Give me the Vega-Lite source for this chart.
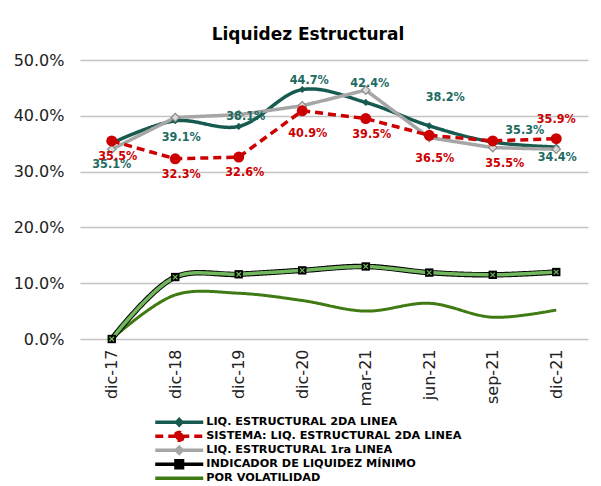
{
  "$schema": "https://vega.github.io/schema/vega-lite/v6.json",
  "width": 508,
  "height": 279,
  "autosize": {"type": "none"},
  "padding": {"left": 80, "top": 60, "right": 13, "bottom": 147},
  "background": "white",
  "title": {
    "text": "Liquidez Estructural",
    "anchor": "middle",
    "dx": -26,
    "offset": -5,
    "baseline": "alphabetic",
    "font": "DejaVu Sans",
    "fontSize": 17,
    "fontWeight": "bold",
    "color": "#000000"
  },
  "config": {
    "view": {"stroke": null},
    "axis": {"labelFont": "DejaVu Sans", "labelFontSize": 16, "labelColor": "#222222", "ticks": false, "domain": false, "title": null},
    "legend": {
      "orient": "none",
      "legendX": 74.25,
      "legendY": 356.5,
      "direction": "vertical",
      "title": null,
      "symbolSize": 144,
      "symbolStrokeWidth": 3.5,
      "symbolOffset": 17,
      "labelFont": "DejaVu Sans",
      "labelFontWeight": "bold",
      "labelFontSize": 11.25,
      "labelColor": "#000000",
      "labelLimit": 400,
      "clipHeight": 11.5,
      "rowPadding": 1,
      "labelOffset": 19,
      "padding": 0
    }
  },
  "data": {
    "values": [
      {"fecha": "dic-17", "serie": "LIQ. ESTRUCTURAL 2DA LINEA", "valor": 0.351},
      {"fecha": "dic-18", "serie": "LIQ. ESTRUCTURAL 2DA LINEA", "valor": 0.391},
      {"fecha": "dic-19", "serie": "LIQ. ESTRUCTURAL 2DA LINEA", "valor": 0.381},
      {"fecha": "dic-20", "serie": "LIQ. ESTRUCTURAL 2DA LINEA", "valor": 0.447},
      {"fecha": "mar-21", "serie": "LIQ. ESTRUCTURAL 2DA LINEA", "valor": 0.424},
      {"fecha": "jun-21", "serie": "LIQ. ESTRUCTURAL 2DA LINEA", "valor": 0.382},
      {"fecha": "sep-21", "serie": "LIQ. ESTRUCTURAL 2DA LINEA", "valor": 0.353},
      {"fecha": "dic-21", "serie": "LIQ. ESTRUCTURAL 2DA LINEA", "valor": 0.344},
      {"fecha": "dic-17", "serie": "SISTEMA: LIQ. ESTRUCTURAL 2DA LINEA", "valor": 0.355},
      {"fecha": "dic-18", "serie": "SISTEMA: LIQ. ESTRUCTURAL 2DA LINEA", "valor": 0.323},
      {"fecha": "dic-19", "serie": "SISTEMA: LIQ. ESTRUCTURAL 2DA LINEA", "valor": 0.326},
      {"fecha": "dic-20", "serie": "SISTEMA: LIQ. ESTRUCTURAL 2DA LINEA", "valor": 0.409},
      {"fecha": "mar-21", "serie": "SISTEMA: LIQ. ESTRUCTURAL 2DA LINEA", "valor": 0.395},
      {"fecha": "jun-21", "serie": "SISTEMA: LIQ. ESTRUCTURAL 2DA LINEA", "valor": 0.365},
      {"fecha": "sep-21", "serie": "SISTEMA: LIQ. ESTRUCTURAL 2DA LINEA", "valor": 0.355},
      {"fecha": "dic-21", "serie": "SISTEMA: LIQ. ESTRUCTURAL 2DA LINEA", "valor": 0.359},
      {"fecha": "dic-17", "serie": "LIQ. ESTRUCTURAL 1ra LINEA", "valor": 0.340},
      {"fecha": "dic-18", "serie": "LIQ. ESTRUCTURAL 1ra LINEA", "valor": 0.397},
      {"fecha": "dic-19", "serie": "LIQ. ESTRUCTURAL 1ra LINEA", "valor": 0.402},
      {"fecha": "dic-20", "serie": "LIQ. ESTRUCTURAL 1ra LINEA", "valor": 0.418},
      {"fecha": "mar-21", "serie": "LIQ. ESTRUCTURAL 1ra LINEA", "valor": 0.446},
      {"fecha": "jun-21", "serie": "LIQ. ESTRUCTURAL 1ra LINEA", "valor": 0.361},
      {"fecha": "sep-21", "serie": "LIQ. ESTRUCTURAL 1ra LINEA", "valor": 0.343},
      {"fecha": "dic-21", "serie": "LIQ. ESTRUCTURAL 1ra LINEA", "valor": 0.340},
      {"fecha": "dic-17", "serie": "INDICADOR DE LIQUIDEZ MÍNIMO", "valor": 0.0},
      {"fecha": "dic-18", "serie": "INDICADOR DE LIQUIDEZ MÍNIMO", "valor": 0.111},
      {"fecha": "dic-19", "serie": "INDICADOR DE LIQUIDEZ MÍNIMO", "valor": 0.116},
      {"fecha": "dic-20", "serie": "INDICADOR DE LIQUIDEZ MÍNIMO", "valor": 0.123},
      {"fecha": "mar-21", "serie": "INDICADOR DE LIQUIDEZ MÍNIMO", "valor": 0.130},
      {"fecha": "jun-21", "serie": "INDICADOR DE LIQUIDEZ MÍNIMO", "valor": 0.119},
      {"fecha": "sep-21", "serie": "INDICADOR DE LIQUIDEZ MÍNIMO", "valor": 0.115},
      {"fecha": "dic-21", "serie": "INDICADOR DE LIQUIDEZ MÍNIMO", "valor": 0.120},
      {"fecha": "dic-17", "serie": "POR VOLATILIDAD", "valor": 0.0},
      {"fecha": "dic-18", "serie": "POR VOLATILIDAD", "valor": 0.079},
      {"fecha": "dic-19", "serie": "POR VOLATILIDAD", "valor": 0.082},
      {"fecha": "dic-20", "serie": "POR VOLATILIDAD", "valor": 0.069},
      {"fecha": "mar-21", "serie": "POR VOLATILIDAD", "valor": 0.050},
      {"fecha": "jun-21", "serie": "POR VOLATILIDAD", "valor": 0.064},
      {"fecha": "sep-21", "serie": "POR VOLATILIDAD", "valor": 0.039},
      {"fecha": "dic-21", "serie": "POR VOLATILIDAD", "valor": 0.052}
    ]
  },
  "encoding": {
    "x": {
      "field": "fecha",
      "type": "ordinal",
      "sort": ["dic-17", "dic-18", "dic-19", "dic-20", "mar-21", "jun-21", "sep-21", "dic-21"],
      "scale": {"type": "point", "padding": 0.5},
      "axis": {"labelAngle": -90, "labelPadding": 10, "grid": false}
    },
    "y": {
      "field": "valor",
      "type": "quantitative",
      "scale": {"domain": [0, 0.5], "nice": false, "zero": true},
      "axis": {"format": ".1%", "values": [0, 0.1, 0.2, 0.3, 0.4, 0.5], "grid": true, "gridColor": "#c4c4c4", "gridWidth": 1.5, "labelPadding": 16}
    }
  },
  "layer": [
    {
      "transform": [{"filter": {"field": "serie", "equal": "POR VOLATILIDAD"}}],
      "mark": {"type": "line", "interpolate": "catmull-rom", "strokeWidth": 3},
      "encoding": {
        "color": {
          "field": "serie", "type": "nominal",
          "scale": {"domain": ["LIQ. ESTRUCTURAL 2DA LINEA", "SISTEMA: LIQ. ESTRUCTURAL 2DA LINEA", "LIQ. ESTRUCTURAL 1ra LINEA", "INDICADOR DE LIQUIDEZ MÍNIMO", "POR VOLATILIDAD"], "range": ["#175b50", "#cc0000", "#a6a6a6", "#000000", "#3f7a12"]},
          "legend": {"encode": {"symbols": {"update": {
            "stroke": {"scale": "color", "field": "value"},
            "fill": [{"test": "datum.value === 'LIQ. ESTRUCTURAL 1ra LINEA'", "value": "#e6e6e6"}, {"scale": "color", "field": "value"}],
            "strokeWidth": {"value": 3.5},
            "opacity": {"value": 1}
          }}}}
        },
        "strokeDash": {"field": "serie", "type": "nominal", "scale": {"domain": ["LIQ. ESTRUCTURAL 2DA LINEA", "SISTEMA: LIQ. ESTRUCTURAL 2DA LINEA", "LIQ. ESTRUCTURAL 1ra LINEA", "INDICADOR DE LIQUIDEZ MÍNIMO", "POR VOLATILIDAD"], "range": [[1, 0], [8, 5], [1, 0], [1, 0], [1, 0]]}}
      }
    },
    {
      "transform": [{"filter": "false"}],
      "mark": {"type": "point", "filled": true},
      "encoding": {
        "color": {"field": "serie", "type": "nominal"},
        "strokeDash": {"field": "serie", "type": "nominal"},
        "shape": {"field": "serie", "type": "nominal", "scale": {"domain": ["LIQ. ESTRUCTURAL 2DA LINEA", "SISTEMA: LIQ. ESTRUCTURAL 2DA LINEA", "LIQ. ESTRUCTURAL 1ra LINEA", "INDICADOR DE LIQUIDEZ MÍNIMO", "POR VOLATILIDAD"], "range": ["M-4,0H4M0,-0.45L0.45,0L0,0.45L-0.45,0Z", "M-4,0H4M0.7,0L0.495,0.495L0,0.7L-0.495,0.495L-0.7,0L-0.495,-0.495L0,-0.7L0.495,-0.495Z", "M-4,0H4M0,-0.5L0.5,0L0,0.5L-0.5,0Z", "M-4,0H4M-0.55,-0.6H0.55V0.6H-0.55Z", "M-4,0H4"]}}
      }
    },
    {
      "transform": [{"filter": {"field": "serie", "equal": "INDICADOR DE LIQUIDEZ MÍNIMO"}}],
      "mark": {"type": "line", "interpolate": "catmull-rom", "strokeWidth": 5.5},
      "encoding": {
        "color": {"field": "serie", "type": "nominal"},
        "strokeDash": {"field": "serie", "type": "nominal"}
      }
    },
    {
      "transform": [{"filter": {"field": "serie", "equal": "INDICADOR DE LIQUIDEZ MÍNIMO"}}],
      "mark": {"type": "line", "interpolate": "catmull-rom", "strokeWidth": 3.5, "color": "#72b85c"},
      "encoding": {}
    },
    {
      "transform": [{"filter": {"field": "serie", "equal": "INDICADOR DE LIQUIDEZ MÍNIMO"}}],
      "mark": {"type": "point", "shape": "square", "filled": true, "size": 70, "color": "#000000", "opacity": 1},
      "encoding": {}
    },
    {
      "transform": [{"filter": {"field": "serie", "equal": "INDICADOR DE LIQUIDEZ MÍNIMO"}}],
      "mark": {"type": "point", "shape": "M-1,-1L1,1M-1,1L1,-1", "filled": false, "size": 20, "stroke": "#72b85c", "strokeWidth": 1.2, "opacity": 1},
      "encoding": {}
    },
    {
      "transform": [{"filter": {"field": "serie", "equal": "LIQ. ESTRUCTURAL 2DA LINEA"}}],
      "mark": {"type": "line", "interpolate": "catmull-rom", "strokeWidth": 3.5},
      "encoding": {
        "color": {"field": "serie", "type": "nominal"},
        "strokeDash": {"field": "serie", "type": "nominal"}
      }
    },
    {
      "transform": [{"filter": {"field": "serie", "equal": "LIQ. ESTRUCTURAL 1ra LINEA"}}],
      "mark": {"type": "line", "interpolate": "linear", "strokeWidth": 3.5},
      "encoding": {
        "color": {"field": "serie", "type": "nominal"},
        "strokeDash": {"field": "serie", "type": "nominal"}
      }
    },
    {
      "transform": [{"filter": {"field": "serie", "equal": "SISTEMA: LIQ. ESTRUCTURAL 2DA LINEA"}}],
      "mark": {"type": "line", "interpolate": "linear", "strokeWidth": 3.5},
      "encoding": {
        "color": {"field": "serie", "type": "nominal"},
        "strokeDash": {"field": "serie", "type": "nominal"}
      }
    },
    {
      "transform": [{"filter": {"field": "serie", "equal": "LIQ. ESTRUCTURAL 2DA LINEA"}}],
      "mark": {"type": "point", "shape": "diamond", "filled": true, "size": 50, "color": "#175b50", "opacity": 1},
      "encoding": {}
    },
    {
      "transform": [{"filter": {"field": "serie", "equal": "LIQ. ESTRUCTURAL 1ra LINEA"}}],
      "mark": {"type": "point", "shape": "diamond", "filled": true, "size": 70, "fill": "#d9d9d9", "stroke": "#8a8a8a", "strokeWidth": 1.2, "opacity": 1},
      "encoding": {}
    },
    {
      "transform": [{"filter": {"field": "serie", "equal": "SISTEMA: LIQ. ESTRUCTURAL 2DA LINEA"}}],
      "mark": {"type": "point", "shape": "circle", "filled": true, "size": 120, "color": "#cc0000", "opacity": 1},
      "encoding": {}
    },
    {
      "transform": [{"filter": {"field": "serie", "equal": "LIQ. ESTRUCTURAL 2DA LINEA"}}, {"filter": {"field": "fecha", "oneOf": ["dic-17"]}}],
      "mark": {"type": "text", "dx": 0, "dy": 21, "font": "DejaVu Sans Condensed, DejaVu Sans", "fontWeight": "bold", "fontSize": 12.5, "color": "#1d6b5f", "baseline": "middle"},
      "encoding": {"text": {"field": "valor", "format": ".1%"}}
    },
    {
      "transform": [{"filter": {"field": "serie", "equal": "LIQ. ESTRUCTURAL 2DA LINEA"}}, {"filter": {"field": "fecha", "oneOf": ["dic-18"]}}],
      "mark": {"type": "text", "dx": 6, "dy": 16, "font": "DejaVu Sans Condensed, DejaVu Sans", "fontWeight": "bold", "fontSize": 12.5, "color": "#1d6b5f", "baseline": "middle"},
      "encoding": {"text": {"field": "valor", "format": ".1%"}}
    },
    {
      "transform": [{"filter": {"field": "serie", "equal": "LIQ. ESTRUCTURAL 2DA LINEA"}}, {"filter": {"field": "fecha", "oneOf": ["dic-19", "dic-20"]}}],
      "mark": {"type": "text", "dx": 7, "dy": -10, "font": "DejaVu Sans Condensed, DejaVu Sans", "fontWeight": "bold", "fontSize": 12.5, "color": "#1d6b5f", "baseline": "middle"},
      "encoding": {"text": {"field": "valor", "format": ".1%"}}
    },
    {
      "transform": [{"filter": {"field": "serie", "equal": "LIQ. ESTRUCTURAL 2DA LINEA"}}, {"filter": {"field": "fecha", "oneOf": ["mar-21"]}}],
      "mark": {"type": "text", "dx": 4, "dy": -19, "font": "DejaVu Sans Condensed, DejaVu Sans", "fontWeight": "bold", "fontSize": 12.5, "color": "#1d6b5f", "baseline": "middle"},
      "encoding": {"text": {"field": "valor", "format": ".1%"}}
    },
    {
      "transform": [{"filter": {"field": "serie", "equal": "LIQ. ESTRUCTURAL 2DA LINEA"}}, {"filter": {"field": "fecha", "oneOf": ["jun-21"]}}],
      "mark": {"type": "text", "dx": 16, "dy": -29, "font": "DejaVu Sans Condensed, DejaVu Sans", "fontWeight": "bold", "fontSize": 12.5, "color": "#1d6b5f", "baseline": "middle"},
      "encoding": {"text": {"field": "valor", "format": ".1%"}}
    },
    {
      "transform": [{"filter": {"field": "serie", "equal": "LIQ. ESTRUCTURAL 2DA LINEA"}}, {"filter": {"field": "fecha", "oneOf": ["sep-21"]}}],
      "mark": {"type": "text", "dx": 32, "dy": -12, "font": "DejaVu Sans Condensed, DejaVu Sans", "fontWeight": "bold", "fontSize": 12.5, "color": "#1d6b5f", "baseline": "middle"},
      "encoding": {"text": {"field": "valor", "format": ".1%"}}
    },
    {
      "transform": [{"filter": {"field": "serie", "equal": "LIQ. ESTRUCTURAL 2DA LINEA"}}, {"filter": {"field": "fecha", "oneOf": ["dic-21"]}}],
      "mark": {"type": "text", "dx": 1, "dy": 10, "font": "DejaVu Sans Condensed, DejaVu Sans", "fontWeight": "bold", "fontSize": 12.5, "color": "#1d6b5f", "baseline": "middle"},
      "encoding": {"text": {"field": "valor", "format": ".1%"}}
    },
    {
      "transform": [{"filter": {"field": "serie", "equal": "SISTEMA: LIQ. ESTRUCTURAL 2DA LINEA"}}, {"filter": {"field": "fecha", "oneOf": ["dic-17", "dic-18", "dic-19", "mar-21"]}}],
      "mark": {"type": "text", "dx": 6, "dy": 15, "font": "DejaVu Sans Condensed, DejaVu Sans", "fontWeight": "bold", "fontSize": 12.5, "color": "#cc0000", "baseline": "middle"},
      "encoding": {"text": {"field": "valor", "format": ".1%"}}
    },
    {
      "transform": [{"filter": {"field": "serie", "equal": "SISTEMA: LIQ. ESTRUCTURAL 2DA LINEA"}}, {"filter": {"field": "fecha", "oneOf": ["dic-20", "jun-21"]}}],
      "mark": {"type": "text", "dx": 5.5, "dy": 22.5, "font": "DejaVu Sans Condensed, DejaVu Sans", "fontWeight": "bold", "fontSize": 12.5, "color": "#cc0000", "baseline": "middle"},
      "encoding": {"text": {"field": "valor", "format": ".1%"}}
    },
    {
      "transform": [{"filter": {"field": "serie", "equal": "SISTEMA: LIQ. ESTRUCTURAL 2DA LINEA"}}, {"filter": {"field": "fecha", "oneOf": ["sep-21"]}}],
      "mark": {"type": "text", "dx": 12, "dy": 22, "font": "DejaVu Sans Condensed, DejaVu Sans", "fontWeight": "bold", "fontSize": 12.5, "color": "#cc0000", "baseline": "middle"},
      "encoding": {"text": {"field": "valor", "format": ".1%"}}
    },
    {
      "transform": [{"filter": {"field": "serie", "equal": "SISTEMA: LIQ. ESTRUCTURAL 2DA LINEA"}}, {"filter": {"field": "fecha", "oneOf": ["dic-21"]}}],
      "mark": {"type": "text", "dx": 0, "dy": -20, "font": "DejaVu Sans Condensed, DejaVu Sans", "fontWeight": "bold", "fontSize": 12.5, "color": "#cc0000", "baseline": "middle"},
      "encoding": {"text": {"field": "valor", "format": ".1%"}}
    }
  ]
}
